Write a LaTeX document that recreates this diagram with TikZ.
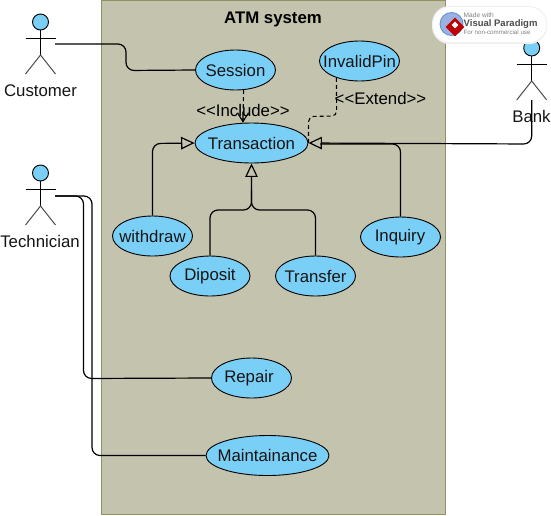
\documentclass[tikz,border=0pt]{standalone}
\usepackage{fontspec}
\setmainfont{Liberation Sans}
\usetikzlibrary{arrows.meta,shapes.geometric,calc}
\definecolor{sysfill}{HTML}{C4C3AE}
\definecolor{sysline}{HTML}{919166}
\definecolor{ucfill}{HTML}{7ACFF6}
\definecolor{txt}{HTML}{151515}
\tikzset{
  usecase/.style={ellipse,draw=black,line width=0.9pt,fill=ucfill,minimum width=80pt,minimum height=40pt,inner sep=0pt,text=txt,font=\fontsize{16.8}{18}\selectfont},
  lbl/.style={text=txt,inner sep=0pt,font=\fontsize{16.8}{18}\selectfont},
  conn/.style={draw=black,line width=1.2pt,rounded corners=8pt},
  gen/.style={conn,-{Triangle[open,length=13.5pt,width=12.5pt,line width=1.2pt]}},
  dep/.style={draw=black,line width=1.1pt,dash pattern=on 4pt off 3pt,rounded corners=5pt},
  limb/.style={line width=1pt,draw=black},
  leg/.style={line width=1pt,draw=black!70},
}
\newcommand{\uctext}[2][0pt]{\makebox[0pt]{\hspace*{#1}#2}}
\newcommand{\umlactor}[3]{%
  \node[circle,draw=black,line width=0.9pt,fill=ucfill,minimum size=16pt,inner sep=0pt] (#1) at (#2,#3) {};
  \coordinate (#1-arml) at (#2-15,#3+16);
  \coordinate (#1-armr) at (#2+15,#3+16);
  \coordinate (#1-hip) at (#2,#3+33);
  \coordinate (#1-footl) at (#2-15,#3+52);
  \coordinate (#1-footr) at (#2+15,#3+52);
  \draw[limb] (#1.south) -- (#1-hip);
  \draw[limb] (#1-arml) -- (#1-armr);
  \draw[leg] (#1-footl) -- (#1-hip) -- (#1-footr);
}
\begin{document}
\begin{tikzpicture}[x=1pt,y=-1pt]
\useasboundingbox (0,0) rectangle (551,515);
\fill[white] (0,0) rectangle (551,515);
\draw[sysline,fill=sysfill,line width=1pt] (101.5,0) rectangle (445.5,514.5);
\node[lbl,font=\fontsize{16.8}{18}\selectfont\bfseries,text=black] (title) at (273,19) {ATM system};

\node[usecase] (session) at (235.5,70) {\uctext{Session}};
\node[usecase,minimum width=113pt] (transaction) at (251.5,143) {\uctext{Transaction}};
\node[usecase] (invalid) at (359.5,61) {\uctext{InvalidPin}};
\node[usecase] (withdraw) at (152.5,236) {\uctext{withdraw}};
\node[usecase] (diposit) at (210,276) {\uctext{Diposit}};
\node[usecase] (transfer) at (315.5,276) {\uctext{Transfer}};
\node[usecase] (inquiry) at (400.5,237) {\uctext[-1pt]{Inquiry}};
\node[usecase] (repair) at (251.5,378) {\uctext[-5pt]{Repair}};
\node[usecase,minimum width=123pt] (maint) at (267.5,455.5) {\uctext{Maintainance}};

\umlactor{customer}{40.5}{22}
\umlactor{technician}{40.5}{173}
\umlactor{bank}{531.7}{48}
\node[lbl] (customerlbl) at (40.5,91) {Customer};
\node[lbl] (technicianlbl) at (40,241.7) {Technician};
\node[lbl] (banklbl) at (531.5,116.7) {Bank};

\coordinate (customer-hand) at (55,44);
\coordinate (technician-hand) at (55,196);
\coordinate (bank-foot) at (531.7,100);

\draw[conn] (customer-hand) -- (126,44) -- (126,70.5) -- (session.west);
\draw[conn] (technician-hand) -- (83.5,196) -- (83.5,378.5) -- (repair.west);
\draw[conn] (technician-hand) -- (92,196) -- (92,455.5) -- (maint.west);

\draw[gen] (withdraw.north) -- (152.5,143.5) -- (transaction.west);
\draw[gen] (diposit.north) -- (210,210) -- (251.5,210) -- (transaction.south);
\draw[conn] (transfer.north) -- (315.5,210) -- (251.5,210) -- (251.5,190);
\draw[conn] (inquiry.north) -- (400.5,144) -- (320,144);
\draw[gen] (bank-foot) -- (531.7,144) -- (transaction.east);

\draw[dep] (session.-68) -- (transaction.113);
\draw[draw=black,line width=1.1pt,-{Straight Barb[length=9pt,width=11pt]}] (243,112) -- (transaction.113);
\draw[dep] (invalid.216) -- (336.7,116) -- (308.6,116.5) -- (transaction.east);

\node[lbl,text=black] (include) at (243,110) {<{}<Include>{}>};
\node[lbl,text=black] (extend) at (380.5,98) {<{}<Extend>{}>};

% watermark badge
\fill[black!6,rounded corners=17.5pt] (432,6) rectangle (547,44);
\fill[white,rounded corners=17pt] (433,7) rectangle (546,42);
\node[circle,draw=cyan!50!blue!70,line width=0.8pt,fill=cyan!45!blue!40,minimum size=23pt,inner sep=0pt] (globe) at (451.5,24) {};
\node[diamond,fill=red!75!black,minimum size=19pt,inner sep=0pt] (logo) at (455,27) {};
\node[diamond,fill=white,minimum size=7pt,inner sep=0pt] (logoin) at (455,25) {};
\node[anchor=west,inner sep=0pt,text=black!50,font=\fontsize{6.6}{8}\selectfont] (made) at (463.5,15.5) {Made with};
\node[anchor=west,inner sep=0pt,text=black!70,font=\fontsize{9.5}{11}\selectfont\bfseries] (vp) at (463.5,23.8) {Visual Paradigm};
\node[anchor=west,inner sep=0pt,text=black!50,font=\fontsize{6.2}{8}\selectfont] (forncu) at (463.5,32.3) {For non-commercial use};
\end{tikzpicture}
\end{document}
